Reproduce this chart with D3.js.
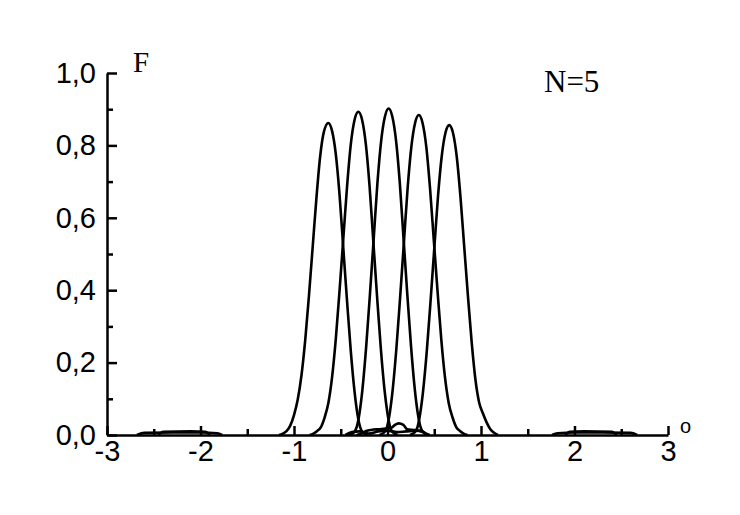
<!DOCTYPE html>
<html><head><meta charset="utf-8">
<script src="https://cdn.jsdelivr.net/npm/d3@7"></script>
<style>
body{margin:0;background:#fff;}
svg{display:block;}
</style></head>
<body>
<svg id="chart" width="740" height="515"></svg>
<script>
// ---- data ----
const xTicks = [-3, -2, -1, 0, 1, 2, 3];
const xMinorTicks = [-2.5, -1.5, -0.5, 0.5, 1.5, 2.5];
const yTicks = [0, 0.2, 0.4, 0.6, 0.8, 1.0];
const yMinorTicks = [0.1, 0.3, 0.5, 0.7, 0.9];

const beam1 = [[-1.16,0],[-1.12,0.004],[-1.08,0.011],[-1.04,0.026],[-1.00,0.055],[-0.96,0.098],[-0.92,0.165],[-0.88,0.262],[-0.84,0.385],[-0.80,0.520],[-0.76,0.655],[-0.72,0.770],[-0.68,0.838],[-0.633,0.862],[-0.593,0.840],[-0.553,0.776],[-0.513,0.664],[-0.473,0.517],[-0.433,0.371],[-0.393,0.233],[-0.353,0.121],[-0.323,0.060],[-0.293,0.022],[-0.263,0.007],[-0.213,0]];
const beam2 = [[-0.832,0],[-0.792,0.004],[-0.752,0.011],[-0.712,0.022],[-0.672,0.049],[-0.632,0.089],[-0.592,0.161],[-0.552,0.268],[-0.512,0.402],[-0.472,0.545],[-0.432,0.688],[-0.392,0.804],[-0.352,0.871],[-0.312,0.893],[-0.272,0.871],[-0.232,0.804],[-0.192,0.688],[-0.152,0.536],[-0.112,0.384],[-0.072,0.241],[-0.032,0.125],[-0.002,0.063],[0.028,0.022],[0.058,0.007],[0.108,0]];
const beam3 = [[-0.408,0],[-0.358,0.007],[-0.328,0.023],[-0.298,0.063],[-0.268,0.126],[-0.228,0.244],[-0.188,0.388],[-0.148,0.541],[-0.108,0.695],[-0.068,0.812],[-0.028,0.879],[0.012,0.902],[0.052,0.879],[0.092,0.812],[0.132,0.695],[0.172,0.541],[0.212,0.388],[0.252,0.244],[0.292,0.126],[0.322,0.063],[0.352,0.023],[0.382,0.007],[0.432,0]];
const beam4 = [[-0.085,0],[-0.035,0.007],[-0.005,0.022],[0.025,0.062],[0.055,0.124],[0.095,0.239],[0.135,0.380],[0.175,0.530],[0.215,0.681],[0.255,0.796],[0.295,0.862],[0.335,0.884],[0.375,0.862],[0.415,0.796],[0.455,0.681],[0.495,0.539],[0.535,0.398],[0.575,0.265],[0.615,0.159],[0.655,0.088],[0.695,0.049],[0.735,0.022],[0.775,0.011],[0.815,0.004],[0.855,0]];
const beam5 = [[0.24,0],[0.29,0.007],[0.32,0.021],[0.35,0.060],[0.38,0.120],[0.42,0.231],[0.46,0.368],[0.50,0.514],[0.54,0.659],[0.58,0.770],[0.62,0.835],[0.66,0.856],[0.70,0.835],[0.74,0.770],[0.78,0.659],[0.82,0.522],[0.86,0.385],[0.90,0.257],[0.94,0.154],[0.98,0.090],[1.02,0.060],[1.06,0.035],[1.10,0.016],[1.14,0.006],[1.18,0]];
const rippleA = [[-0.33,0],[-0.28,0.004],[-0.22,0.012],[-0.15,0.015],[-0.08,0.016],[-0.02,0.018],[0.04,0.020],[0.08,0.028],[0.12,0.032],[0.17,0.028],[0.21,0.016],[0.28,0.014],[0.34,0.012],[0.40,0.006],[0.45,0]];
const rippleB = [[-0.45,0],[-0.38,0.008],[-0.30,0.010],[-0.20,0.004],[-0.10,0.010],[0.00,0.012],[0.10,0.008],[0.20,0.010],[0.30,0.012],[0.37,0.010],[0.42,0]];
const lobeLeft1 = [[-2.68,0],[-2.60,0.006],[-2.30,0.007],[-2.00,0.007],[-1.82,0.005],[-1.77,0]];
const lobeLeft2 = [[-2.45,0],[-2.40,0.009],[-2.10,0.010],[-1.95,0.009],[-1.90,0]];
const lobeRight1 = [[1.76,0],[1.82,0.005],[2.00,0.007],[2.30,0.007],[2.60,0.006],[2.67,0]];
const lobeRight2 = [[1.90,0],[1.95,0.009],[2.10,0.010],[2.40,0.009],[2.45,0]];

const series = [beam1, beam2, beam3, beam4, beam5, rippleA, rippleB, lobeLeft1, lobeLeft2, lobeRight1, lobeRight2];

// ---- drawing ----
const svg = d3.select("#chart");
const x = d3.scaleLinear().domain([-3, 3]).range([107, 668]);
const y = d3.scaleLinear().domain([0, 1]).range([435, 73]);

const line = d3.line().x(d => x(d[0])).y(d => y(d[1])).curve(d3.curveMonotoneX);

svg.append("g").selectAll("path").data(series).join("path")
  .attr("d", line).attr("fill", "none").attr("stroke", "#000")
  .style("stroke-width", "2.6px").attr("stroke-linejoin", "round");

const fmtY = d => d.toFixed(1).replace(".", ",");
const sans = "'Liberation Sans',Arial,sans-serif";
const serif = "'Liberation Serif','Times New Roman',serif";

function styleAxis(g) {
  g.selectAll(".domain").style("stroke-width", "2.5px").attr("stroke", "#000");
  g.selectAll(".tick line").style("stroke-width", "2.5px").attr("stroke", "#000");
  g.selectAll(".tick text").style("font-size", "29px").style("font-family", sans).attr("fill", "#000");
}

// y axis
svg.append("g").attr("transform", `translate(${x(-3)},0)`)
  .call(d3.axisLeft(y).tickValues(yTicks).tickFormat(fmtY).tickSizeInner(-10).tickSizeOuter(0).tickPadding(11))
  .call(styleAxis);
svg.append("g").attr("transform", `translate(${x(-3)},0)`)
  .call(d3.axisLeft(y).tickValues(yMinorTicks).tickFormat("").tickSizeInner(-6).tickSizeOuter(0))
  .call(g => g.select(".domain").remove())
  .call(styleAxis);

// x axis
svg.append("g").attr("transform", `translate(0,${y(0)})`)
  .call(d3.axisBottom(x).tickValues(xTicks).tickFormat(d => String(d)).tickSizeInner(-9).tickSizeOuter(0).tickPadding(5))
  .call(styleAxis);
svg.append("g").attr("transform", `translate(0,${y(0)})`)
  .call(d3.axisBottom(x).tickValues(xMinorTicks).tickFormat("").tickSizeInner(-6).tickSizeOuter(0))
  .call(g => g.select(".domain").remove())
  .call(styleAxis);

// labels
svg.append("text").attr("x", 133).attr("y", 72)
  .style("font-family", serif).style("font-size", "29px").text("F");
svg.append("text").attr("x", 544).attr("y", 92)
  .style("font-family", serif).style("font-size", "31px").text("N=5");
svg.append("text").attr("x", 680).attr("y", 433)
  .style("font-family", sans).style("font-size", "20px").text("o");
</script>
</body></html>
